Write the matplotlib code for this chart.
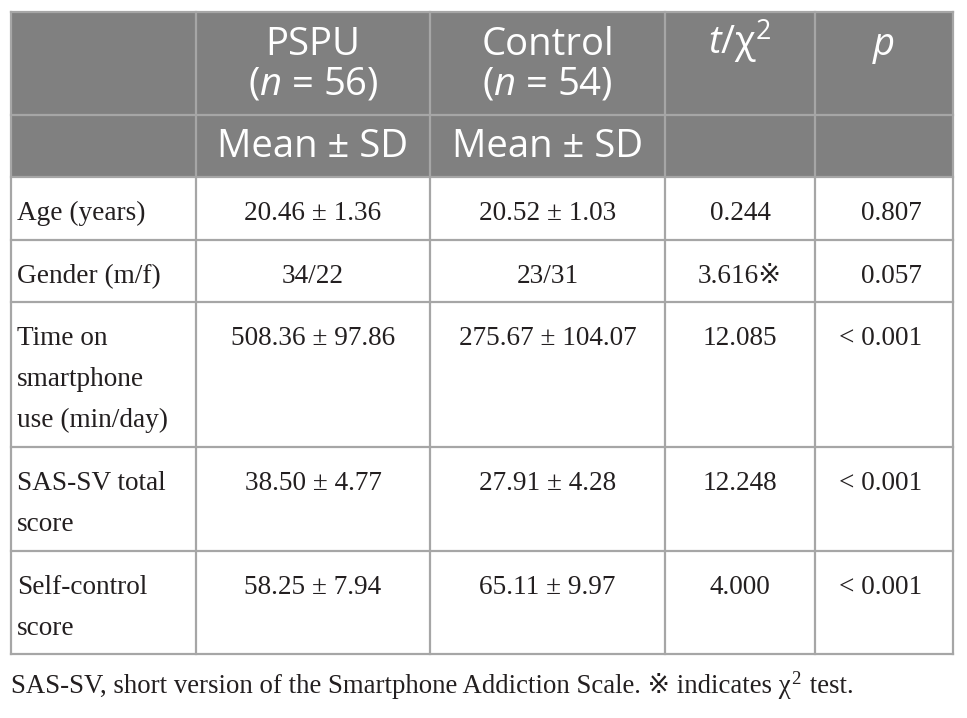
import matplotlib
matplotlib.use("Agg")
import matplotlib.pyplot as plt
from matplotlib.patches import Rectangle

# ---- data ----
row_labels = ["Age (years)", "Gender (m/f)", "Time on\nsmartphone\nuse (min/day)",
              "SAS-SV total\nscore", "Self-control\nscore"]
pspu_vals = ["20.46 ± 1.36", "34/22", "508.36 ± 97.86", "38.50 ± 4.77", "58.25 ± 7.94"]
control_vals = ["20.52 ± 1.03", "23/31", "275.67 ± 104.07", "27.91 ± 4.28", "65.11 ± 9.97"]
stat_vals = ["0.244", "3.616※", "12.085", "12.248", "4.000"]
p_vals = ["0.807", "0.057", "< 0.001", "< 0.001", "< 0.001"]
header1 = ["", "PSPU\n($n$ = 56)", "Control\n($n$ = 54)", "$t$/χ$^{\\mathsf{2}}$", "$p$"]
header2 = ["", "Mean ± SD", "Mean ± SD", "", ""]
caption_parts = ["SAS-SV, short version of the Smartphone Addiction Scale. ※ indicates χ", "2", " test."]

# ---- style ----
plt.rcParams['mathtext.fontset'] = 'custom'
plt.rcParams['mathtext.rm'] = 'Liberation Serif'
plt.rcParams['mathtext.it'] = 'Open Sans:italic'
plt.rcParams['mathtext.sf'] = 'Open Sans'

W, H = 967, 718
fig = plt.figure(figsize=(W / 100, H / 100), dpi=100)
ax = fig.add_axes([0, 0, 1, 1])
ax.set_xlim(0, W)
ax.set_ylim(H, 0)
ax.axis('off')

col_edges = [11, 196, 430, 665, 815, 953]
row_edges = [12, 115, 177, 240, 302, 447, 551, 654]
hdr_bg = "#808080"
line_c = "#a6a6a6"
txt_c = "#231f20"
serif = ['Liberation Serif', 'DejaVu Serif', 'DejaVu Sans']
sans = ['Open Sans', 'DejaVu Sans']
body_fs = 19.6
cap_fs = 19.25
hdr_fs = 27.5
pitch = 41

# header background
ax.add_patch(Rectangle((col_edges[0], row_edges[0]), col_edges[-1] - col_edges[0],
                       row_edges[2] - row_edges[0], facecolor=hdr_bg, edgecolor='none', zorder=0))

# grid lines
for x in col_edges:
    ax.plot([x, x], [row_edges[0], row_edges[-1]], color=line_c, lw=1.6, zorder=2,
            solid_capstyle='projecting')
for y in row_edges:
    ax.plot([col_edges[0], col_edges[-1]], [y, y], color=line_c, lw=1.6, zorder=2,
            solid_capstyle='projecting')

centers = [(col_edges[i] + col_edges[i + 1]) / 2 for i in range(len(col_edges) - 1)]

# header texts
for i, h in enumerate(header1):
    if not h:
        continue
    for k, line in enumerate(h.split("\n")):
        ax.text(centers[i], row_edges[0] + 43 + k * 40, line, ha='center', va='baseline',
                color='white', fontsize=hdr_fs, family=sans, zorder=3)
for i, h in enumerate(header2):
    if not h:
        continue
    ax.text(centers[i], row_edges[1] + 42, h, ha='center', va='baseline',
            color='white', fontsize=hdr_fs, family=sans, zorder=3)

# body texts
for r in range(len(row_labels)):
    top = row_edges[2 + r]
    base = top + 43
    for k, line in enumerate(row_labels[r].split("\n")):
        ax.text(17, base + k * pitch, line, ha='left', va='baseline', color=txt_c,
                fontsize=body_fs, family=serif, zorder=3)
    ax.text(centers[1], base, pspu_vals[r], ha='center', va='baseline', color=txt_c,
            fontsize=body_fs, family=serif, zorder=3)
    ax.text(centers[2], base, control_vals[r], ha='center', va='baseline', color=txt_c,
            fontsize=body_fs, family=serif, zorder=3)
    ax.text(centers[3], base, stat_vals[r], ha='center', va='baseline', color=txt_c,
            fontsize=body_fs, family=serif, zorder=3)
    ax.text(922, base, p_vals[r], ha='right', va='baseline', color=txt_c,
            fontsize=body_fs, family=serif, zorder=3)

# caption (built from pieces so the superscript 2 sits raised)
renderer = fig.canvas.get_renderer()
x = 11
cap_base = 693
sizes = [cap_fs, cap_fs * 0.7, cap_fs]
offsets = [0, -9, 0]
gaps = [1, 2, 0]
for part, fs, dy, gap in zip(caption_parts, sizes, offsets, gaps):
    t = ax.text(x, cap_base + dy, part, ha='left', va='baseline', color=txt_c,
                fontsize=fs, family=serif)
    bb = t.get_window_extent(renderer=renderer)
    x += bb.width + gap

fig.savefig("out.png", dpi=100, facecolor='white')
